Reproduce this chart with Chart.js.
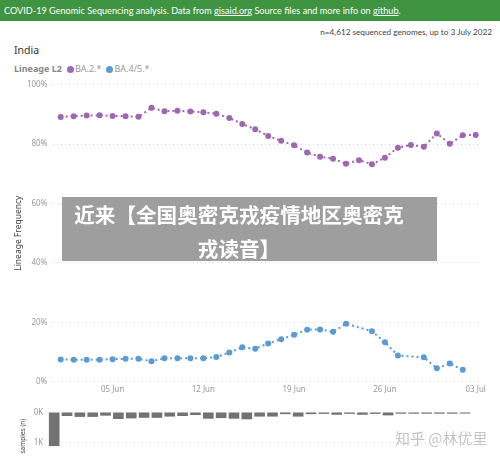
<!DOCTYPE html>
<html>
<head>
<meta charset="utf-8">
<script src="https://cdn.jsdelivr.net/npm/chart.js@4"></script>
<style>
  html, body { margin:0; padding:0; background:#fff; }
  body { width:500px; height:460px; position:relative; overflow:hidden; font-family:"Noto Sans", sans-serif; }
  .abs { position:absolute; white-space:nowrap; }
  #hdr { left:0; top:0; width:500px; height:21px; background:#3e9440; color:#fff; font-family:Lato, sans-serif; font-size:9.15px; line-height:21px; padding-left:4px; box-sizing:border-box; }
  #hdr u { text-decoration:underline; }
  #count { right:8px; top:25px; font-family:Lato, sans-serif; font-size:8.2px; color:#444; line-height:14px; }
  #country { left:14px; top:42px; font-size:10.5px; color:#333; line-height:16px; }
  #legend { left:14px; top:62px; font-size:9px; line-height:14px; color:#999; }
  #legend b { color:#888; margin-right:5px; }
  .dot { display:inline-block; width:7px; height:7px; border-radius:50%; vertical-align:-0.5px; margin-right:1px; }
  .item { margin-right:5px; }
  canvas { position:absolute; left:0; }
  #overlay { left:62px; top:197px; width:375px; height:64px; background:#9e9e9e; }
  #overlayText { left:64px; top:197px; width:350px; white-space:normal; text-align:center; color:#fff; font-weight:bold; font-size:20.6px; line-height:34px; font-family:"Noto Sans CJK SC", sans-serif; }
  #wm { left:395px; top:428px; font-size:15px; color:#c4c4c4; font-family:"Noto Sans CJK SC", sans-serif; line-height:20px; }
</style>
</head>
<body>
<div id="hdr" class="abs">COVID-19 Genomic Sequencing analysis. Data from <u>gisaid.org</u> Source files and more info on <u>github</u>.</div>
<div id="count" class="abs">n=4,612 sequenced genomes, up to 3 July 2022</div>
<div id="country" class="abs">India</div>
<div id="legend" class="abs"></div>
<canvas id="main" width="500" height="400" style="top:0;width:500px;height:400px"></canvas>
<canvas id="bars" width="500" height="60" style="top:400px;width:500px;height:60px"></canvas>
<div id="overlay" class="abs"></div>
<div id="overlayText" class="abs">近来【全国奥密克戎疫情地区奥密克戎读音】</div>
<div id="wm" class="abs">知乎 @林优里</div>
<script>
// ---- data ----
const dates = ['01 Jun','02 Jun','03 Jun','04 Jun','05 Jun','06 Jun','07 Jun','08 Jun','09 Jun','10 Jun',
  '11 Jun','12 Jun','13 Jun','14 Jun','15 Jun','16 Jun','17 Jun','18 Jun','19 Jun','20 Jun',
  '21 Jun','22 Jun','23 Jun','24 Jun','25 Jun','26 Jun','27 Jun','28 Jun','29 Jun','30 Jun',
  '01 Jul','02 Jul','03 Jul'];
const seriesNames = ['BA.2.*', 'BA.4/5.*'];
const ba2 = [89.1, 89.4, 89.6, 89.7, 89.5, 89.4, 89.2, 92.2, 91.1, 91.2, 91.0, 90.7, 90.2, 88.8, 86.8,
  85.0, 82.7, 81.1, 79.6, 77.2, 75.7, 75.1, 73.4, 74.6, 73.2, 75.4, 78.8, 79.7, 79.1, 83.6, 80.1, 83.0, 83.1];
const ba45 = [7.5, 7.4, 7.4, 7.4, 7.6, 7.7, 7.7, 6.9, 7.9, 7.9, 7.9, 7.9, 8.3, 9.8, 11.6,
  11.1, 12.9, 14.3, 15.8, 17.5, 17.6, 16.8, 19.5, null, 17.0, 13.3, 8.8, null, 8.2, 4.5, 6.1, 4.0, null];
const samples = [1100, 110, 140, 140, 100, 210, 190, 170, 170, 130, 110, 80, 200, 180, 200, 220,
  130, 130, 50, 130, 50, 40, 70, 40, 70, 40, 90, 35, 35, 35, 35, 35, 30];
const xTickLabels = ['05 Jun', '12 Jun', '19 Jun', '26 Jun', '03 Jul'];
const yTickValues = [0, 20, 40, 60, 80, 100];
const sampleTicks = [0, 1000];

const colors = ['#a066b2', '#5b9bd5'];
const FONT = '"Noto Sans", sans-serif';

// legend
const lg = document.getElementById('legend');
lg.innerHTML = '<b>Lineage L2</b>' + seriesNames.map((n, i) =>
  `<span class="item"><span class="dot" style="background:${colors[i]}"></span>${n}</span>`).join('');

const toPts = arr => arr.map((v, i) => ({x: i, y: v}));
const tickIdx = xTickLabels.map(l => dates.indexOf(l));
const noPad = s => { s.paddingTop = 0; s.paddingBottom = 0; };

new Chart(document.getElementById('main'), {
  type: 'line',
  data: {
    datasets: [ba2, ba45].map((arr, i) => ({
      label: seriesNames[i],
      data: toPts(arr),
      borderColor: colors[i],
      backgroundColor: colors[i],
      borderWidth: 2,
      borderDash: [2, 3],
      pointRadius: 3,
      pointBorderWidth: 0,
      spanGaps: true,
      tension: 0
    }))
  },
  options: {
    responsive: false,
    animation: false,
    events: [],
    layout: { padding: { top: 84.7, right: 20, bottom: 0, left: 0 } },
    plugins: { legend: { display: false }, tooltip: { enabled: false } },
    scales: {
      x: {
        type: 'linear', min: -0.57, max: 32.33,
        afterBuildTicks: s => { s.ticks = tickIdx.map(v => ({value: v})); },
        afterFit: s => { s.height = 18.3; },
        ticks: { callback: v => dates[v], color: '#999', font: { family: FONT, size: 8 }, padding: 3, maxRotation: 0, autoSkip: false },
        grid: { display: false, drawTicks: false },
        border: { display: false }
      },
      y: {
        min: 0, max: 100,
        afterBuildTicks: s => { s.ticks = yTickValues.map(v => ({value: v})); },
        afterFit: s => { s.width = 53.3; noPad(s); },
        ticks: { callback: v => v + '%', color: '#999', font: { family: FONT, size: 8 }, padding: 6 },
        grid: { color: '#d6d6d6', lineWidth: 1, drawTicks: false },
        border: { display: false, dash: [1, 3] },
        title: { display: true, text: 'Lineage Frequency', color: '#444', font: { family: FONT, size: 8.5 }, padding: { top: 13.5 } }
      }
    }
  }
});

new Chart(document.getElementById('bars'), {
  type: 'bar',
  data: {
    datasets: [{
      label: 'samples',
      data: toPts(samples),
      backgroundColor: '#727272',
      barThickness: 10,
      clip: false
    }]
  },
  options: {
    responsive: false,
    animation: false,
    events: [],
    layout: { padding: { top: 12.3, right: 20, bottom: 0, left: 0 } },
    plugins: { legend: { display: false }, tooltip: { enabled: false } },
    scales: {
      x: { type: 'linear', min: -0.07, max: 33.16, display: false, offset: false },
      y: {
        reverse: true, min: 0, max: 1569,
        afterBuildTicks: s => { s.ticks = sampleTicks.map(v => ({value: v})); },
        afterFit: s => { s.width = 53.3; noPad(s); },
        ticks: { callback: v => (v / 1000) + 'K', color: '#999', font: { family: FONT, size: 8 }, padding: 10 },
        grid: { color: c => c.tick && c.tick.value === 0 ? 'rgba(0,0,0,0)' : '#d6d6d6', drawTicks: false },
        border: { display: false, dash: [1, 3] },
        title: { display: true, text: 'samples (n)', color: '#444', font: { family: FONT, size: 6.5 }, padding: { top: 19.5 } }
      }
    }
  }
});
</script>
</body>
</html>
